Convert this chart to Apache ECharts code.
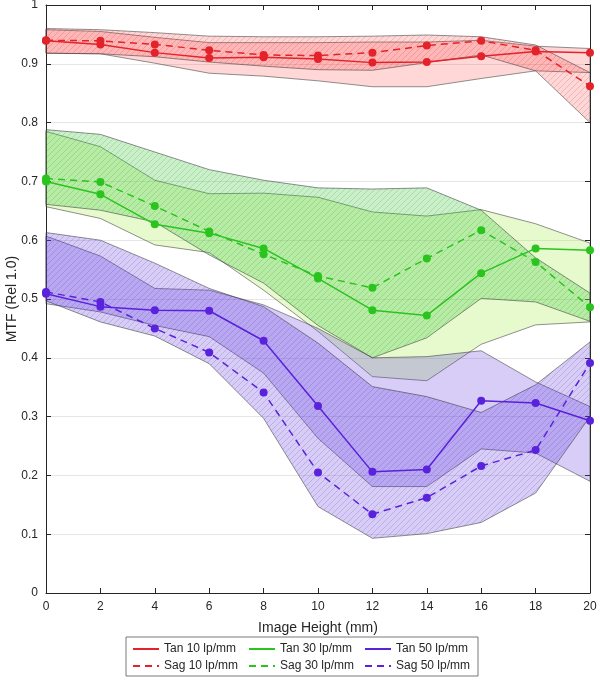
<!DOCTYPE html>
<html><head><meta charset="utf-8">
<script src="https://cdn.jsdelivr.net/npm/echarts@6/dist/echarts.min.js"></script>
<style>html,body{margin:0;padding:0;background:#fff}#c{width:600px;height:681px}</style>
</head><body><div id="c"></div>
<script>
// ---- data ----
const xs = [0, 2, 4, 6, 8, 10, 12, 14, 16, 18, 20];
const tan10 = [0.939, 0.933, 0.919, 0.910, 0.911, 0.908, 0.902, 0.903, 0.913, 0.921, 0.919];
const sag10 = [0.940, 0.939, 0.933, 0.923, 0.915, 0.914, 0.919, 0.931, 0.939, 0.923, 0.862];
const tan30 = [0.700, 0.678, 0.627, 0.612, 0.586, 0.535, 0.481, 0.472, 0.544, 0.586, 0.583];
const sag30 = [0.705, 0.699, 0.658, 0.615, 0.576, 0.539, 0.519, 0.569, 0.617, 0.563, 0.486];
const tan50 = [0.509, 0.487, 0.481, 0.480, 0.429, 0.318, 0.206, 0.210, 0.327, 0.323, 0.293];
const sag50 = [0.512, 0.495, 0.450, 0.409, 0.341, 0.205, 0.134, 0.162, 0.216, 0.243, 0.391];
// bands (min / max ranges)
const tan10Hi = [0.958, 0.955, 0.945, 0.936, 0.936, 0.936, 0.937, 0.937, 0.940, 0.930, 0.926];
const tan10Lo = [0.918, 0.917, 0.901, 0.884, 0.879, 0.871, 0.861, 0.861, 0.875, 0.888, 0.885];
const sag10Hi = [0.960, 0.958, 0.953, 0.947, 0.946, 0.946, 0.947, 0.949, 0.946, 0.932, 0.885];
const sag10Lo = [0.918, 0.917, 0.912, 0.903, 0.896, 0.890, 0.889, 0.902, 0.915, 0.888, 0.800];
const tan30Hi = [0.785, 0.759, 0.702, 0.679, 0.680, 0.673, 0.648, 0.641, 0.652, 0.628, 0.595];
const tan30Lo = [0.657, 0.637, 0.592, 0.579, 0.515, 0.445, 0.368, 0.361, 0.423, 0.456, 0.461];
const sag30Hi = [0.788, 0.780, 0.750, 0.720, 0.702, 0.689, 0.687, 0.689, 0.651, 0.570, 0.510];
const sag30Lo = [0.661, 0.651, 0.631, 0.575, 0.527, 0.455, 0.400, 0.434, 0.501, 0.495, 0.462];
const tan50Hi = [0.607, 0.573, 0.518, 0.515, 0.490, 0.450, 0.400, 0.402, 0.412, 0.359, 0.317];
const tan50Lo = [0.492, 0.478, 0.455, 0.436, 0.374, 0.263, 0.181, 0.181, 0.245, 0.238, 0.190];
const sag50Hi = [0.613, 0.600, 0.561, 0.518, 0.487, 0.425, 0.351, 0.334, 0.307, 0.354, 0.427];
const sag50Lo = [0.497, 0.461, 0.437, 0.390, 0.297, 0.147, 0.093, 0.101, 0.120, 0.170, 0.300];
const xTicks = [0, 20, 2];
const yTicks = [0, 1, 0.1];

// ---- styling ----
const FONT = 'Liberation Sans, Arial, Helvetica, sans-serif';
const RED = '#e4222a', GREEN = '#2bc41f', PURPLE = '#5a22dc';
const AX = '#262626';

function makeHatch(color) {
  const s = 6;
  const c = document.createElement('canvas');
  c.width = s; c.height = s;
  const g = c.getContext('2d');
  g.strokeStyle = color; g.lineWidth = 0.7;
  g.beginPath();
  g.moveTo(0, s); g.lineTo(s, 0);
  g.moveTo(-1, 1); g.lineTo(1, -1);
  g.moveTo(s - 1, s + 1); g.lineTo(s + 1, s - 1);
  g.stroke();
  return c;
}

function band(hi, lo, fill, hatchColor) {
  const hatch = hatchColor ? makeHatch(hatchColor) : null;
  return {
    type: 'custom', silent: true, z: 1,
    data: xs.map((x, i) => [x, lo[i], hi[i]]),
    encode: { x: 0, y: [1, 2] },
    renderItem: function (params, api) {
      if (params.dataIndex !== 0) return;
      const pts = [];
      for (let i = 0; i < xs.length; i++) pts.push(api.coord([xs[i], hi[i]]));
      for (let i = xs.length - 1; i >= 0; i--) pts.push(api.coord([xs[i], lo[i]]));
      const children = [{ type: 'polygon', shape: { points: pts }, style: { fill: fill, stroke: null } }];
      if (hatch) children.push({ type: 'polygon', shape: { points: pts }, style: { fill: { image: hatch, repeat: 'repeat' }, stroke: null } });
      children.push({ type: 'polygon', shape: { points: pts }, style: { fill: null, stroke: 'rgba(60,60,60,0.8)', lineWidth: 0.7 } });
      return { type: 'group', children: children };
    }
  };
}

function line(name, vals, color, dashed) {
  return {
    name: name, type: 'line', z: 5,
    data: xs.map((x, i) => [x, vals[i]]),
    symbol: 'circle', symbolSize: 8,
    itemStyle: { color: color },
    lineStyle: { color: color, width: 1.5, type: dashed ? [7, 5] : 'solid' },
    emphasis: { disabled: true }
  };
}

const chart = echarts.init(document.getElementById('c'), null, { renderer: 'canvas' });
const axisCommon = {
  type: 'value',
  axisLine: { show: true, onZero: false, lineStyle: { color: AX, width: 1 } },
  axisTick: { show: true, inside: true, length: 5, lineStyle: { color: AX } },
  splitLine: { show: false }
};
chart.setOption({
  animation: false,
  textStyle: { fontFamily: FONT },
  grid: { left: 46, right: 10, top: 5, bottom: 88, containLabel: false, outerBoundsMode: 'none' },
  xAxis: [
    Object.assign({}, axisCommon, {
      min: xTicks[0], max: xTicks[1], interval: xTicks[2], position: 'bottom',
      axisLabel: { color: AX, fontSize: 12, margin: 8, fontFamily: FONT },
      name: 'Image Height (mm)', nameLocation: 'middle', nameGap: 28, nameMoveOverlap: false,
      nameTextStyle: { color: AX, fontSize: 14, fontFamily: FONT }
    }),
    Object.assign({}, axisCommon, {
      min: xTicks[0], max: xTicks[1], interval: xTicks[2], position: 'top',
      axisLabel: { show: false }
    })
  ],
  yAxis: [
    Object.assign({}, axisCommon, {
      min: yTicks[0], max: yTicks[1], interval: yTicks[2], position: 'left',
      axisLabel: { color: AX, fontSize: 12, margin: 8, fontFamily: FONT,
        formatter: v => String(Math.round(v * 10) / 10) },
      splitLine: { show: true, lineStyle: { color: '#e6e6e6', width: 1 } },
      name: 'MTF (Rel 1.0)', nameLocation: 'middle', nameGap: 27, nameMoveOverlap: false,
      nameTextStyle: { color: AX, fontSize: 14, fontFamily: FONT }
    }),
    Object.assign({}, axisCommon, {
      min: yTicks[0], max: yTicks[1], interval: yTicks[2], position: 'right',
      axisLabel: { show: false }
    })
  ],
  legend: {
    data: ['Tan 10 lp/mm', 'Tan 30 lp/mm', 'Tan 50 lp/mm', 'Sag 10 lp/mm', 'Sag 30 lp/mm', 'Sag 50 lp/mm'],
    left: 126, top: 637, width: 380,
    orient: 'horizontal',
    itemWidth: 26, itemHeight: 12, itemGap: 5,
    padding: [6, 3, 4, 6],
    borderColor: '#555', borderWidth: 0.8,
    backgroundColor: '#fff',
    itemStyle: { opacity: 0 },
    selectedMode: false,
    textStyle: { color: AX, fontSize: 12, fontFamily: FONT, width: 79, lineHeight: 12 }
  },
  series: [
    band(tan10Hi, tan10Lo, 'rgba(255,40,40,0.19)', null),
    band(sag10Hi, sag10Lo, 'rgba(255,40,40,0.19)', 'rgba(170,40,40,0.28)'),
    band(tan30Hi, tan30Lo, 'rgba(155,235,55,0.25)', null),
    band(sag30Hi, sag30Lo, 'rgba(60,200,60,0.28)', 'rgba(40,120,40,0.28)'),
    band(tan50Hi, tan50Lo, 'rgba(95,55,225,0.25)', null),
    band(sag50Hi, sag50Lo, 'rgba(95,55,225,0.25)', 'rgba(60,40,150,0.28)'),
    line('Tan 10 lp/mm', tan10, RED, false),
    line('Sag 10 lp/mm', sag10, RED, true),
    line('Tan 30 lp/mm', tan30, GREEN, false),
    line('Sag 30 lp/mm', sag30, GREEN, true),
    line('Tan 50 lp/mm', tan50, PURPLE, false),
    line('Sag 50 lp/mm', sag50, PURPLE, true)
  ]
});
</script>
</body></html>
